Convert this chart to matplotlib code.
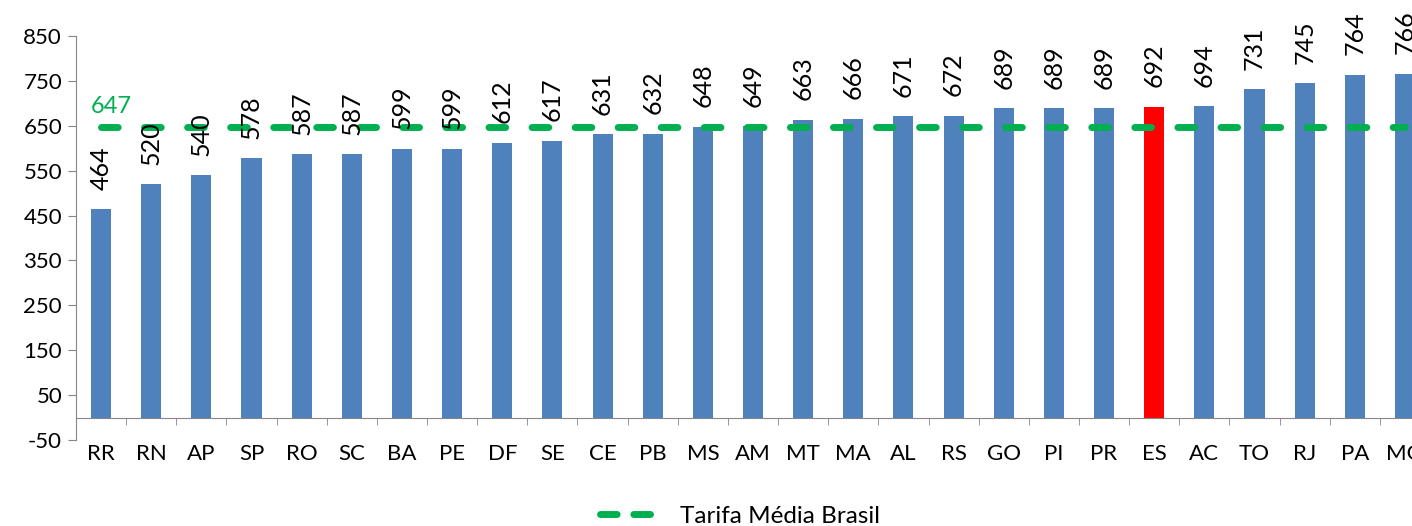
import numpy as np
import matplotlib
matplotlib.use("Agg")
import matplotlib.pyplot as plt
from matplotlib.lines import Line2D

plt.rcParams['font.family'] = ['Lato', 'DejaVu Sans']
plt.rcParams['axes.unicode_minus'] = False

# tarifa por estado (R$/MWh)
estados = ['RR', 'RN', 'AP', 'SP', 'RO', 'SC', 'BA', 'PE', 'DF', 'SE', 'CE', 'PB', 'MS', 'AM',
           'MT', 'MA', 'AL', 'RS', 'GO', 'PI', 'PR', 'ES', 'AC', 'TO', 'RJ', 'PA', 'MG']
tarifas = [464, 520, 540, 578, 587, 587, 599, 599, 612, 617, 631, 632, 648, 649,
           663, 666, 671, 672, 689, 689, 689, 692, 694, 731, 745, 764, 766]
media_brasil = 647
destaque = 'ES'

azul = '#4F81BD'
vermelho = '#FF0000'
verde = '#00B050'
cinza = '#868686'

fig = plt.figure(figsize=(14.12, 5.26), dpi=100)
# eixo um pouco mais largo que a figura: a última barra fica cortada
ax = fig.add_axes([76 / 1412, 86 / 526, 1354 / 1412, 404 / 526])

x = np.arange(len(estados))
cores = [vermelho if e == destaque else azul for e in estados]
ax.bar(x, tarifas, width=0.4, color=cores, zorder=2)

# rótulos verticais acima das barras
for xi, v in zip(x, tarifas):
    ax.annotate(str(v), (xi, v), xytext=(0, 14), textcoords='offset points',
                rotation=90, ha='center', va='bottom', fontsize=18, zorder=4)

# linha da tarifa média
linha, = ax.plot(x, [media_brasil] * len(x), color=verde, lw=5,
                 dash_capstyle='round', zorder=3)
linha.set_dashes([2.4, 3.8])
ax.text(x[0] - 0.2, media_brasil + 22, str(media_brasil), color=verde,
        fontsize=17, ha='left', va='bottom')

ax.set_xlim(-0.5, len(x) - 0.5)
ax.set_ylim(-50, 850)
ax.set_yticks(np.arange(-50, 851, 100))

for s in ['top', 'right']:
    ax.spines[s].set_visible(False)
ax.spines['left'].set_color(cinza)
ax.spines['bottom'].set_color(cinza)
ax.spines['bottom'].set_position(('data', 0))

ax.set_xticks(x)
ax.set_xticklabels(estados)
ax.set_xticks(np.arange(-0.5, len(x), 1.0), minor=True)
ax.tick_params(axis='x', which='major', length=0, pad=19, labelsize=16)
ax.tick_params(axis='x', which='minor', length=5, color=cinza, direction='out')
ax.tick_params(axis='y', length=6, color=cinza, labelsize=16, pad=4)

leg_handle = Line2D([], [], color=verde, lw=5, dash_capstyle='round')
leg_handle.set_dashes([2.4, 2.4])
fig.legend([leg_handle], ['Tarifa Média Brasil'], loc='center',
           bbox_to_anchor=(740 / 1412, 10 / 526), frameon=False, fontsize=17.5,
           handlelength=2.6, handletextpad=0.7)

fig.savefig('out.png', dpi=100)
